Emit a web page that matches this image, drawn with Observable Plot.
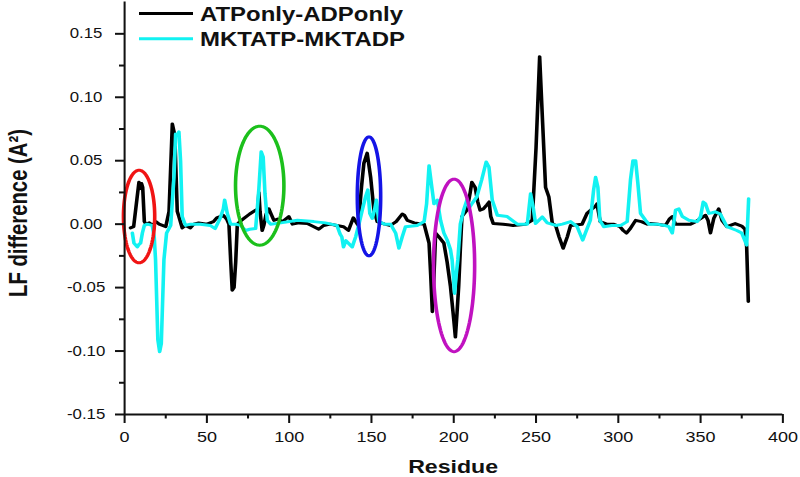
<!DOCTYPE html>
<html><head><meta charset="utf-8">
<script src="https://cdn.jsdelivr.net/npm/d3@7"></script>
<script src="https://cdn.jsdelivr.net/npm/@observablehq/plot@0.6"></script>
<style>
html,body{margin:0;padding:0;background:#fff;overflow:hidden}
#wrap{width:666.667px;height:477px;transform:scaleX(1.2);transform-origin:0 0;}
</style></head><body><div id="wrap"></div>
<script>
// ---- data ----
const seriesNames = ["ATPonly-ADPonly", "MKTATP-MKTADP"];
const seriesColors = ["#000000", "#12f2f2"];

const blackResidue = [3.6,5.5,7.5,8.7,9.5,10.3,11,12,13,15,17,19,21,23,25,27,29,30.5,32,33,35,37,40,42,45,50,54,56,60,62,63.4,64.5,65.4,66.5,67.5,68.5,70,72.5,76,79.6,81,81.6,82.3,83.6,84.6,86,87.7,89,90.7,93,96,99.8,102,106,111,115,118,121,125,129,133,136,139,142,144,145.4,147.4,149.5,151.5,153.5,158,161.6,165,168.7,170,171.8,176,182,185,186,187,188,189,191,194,196,198,200,201,202,203,204,205,208,210,211,213,214.5,216,218,220,221.5,222.5,224,230,236,243.6,247.7,250,252.2,254,255.8,257.8,259.9,261.9,264,266.5,269,271,278,281,284,286,287,289,293,297,301,303,305,307,310.5,314,317.6,319.6,324,328.7,331,332.8,334.8,340,343.9,347,350,353,354.5,356,358,361,363,366,371,375,377,378,379];
const blackLF = [-0.003,-0.002,0.020,0.033,0.028,0.032,0.029,0.002,0.000,0.001,-0.001,0.002,0.000,-0.001,-0.002,0.010,0.079,0.070,0.010,0.006,-0.003,-0.001,-0.003,0.000,0.001,0.000,0.002,0.005,0.007,0.004,0.000,-0.030,-0.052,-0.050,-0.030,0.000,0.002,0.0045,0.008,0.011,0.012,0.025,0.010,-0.005,-0.001,0.008,0.012,0.008,0.003,0.004,0.002,0.006,0.000,0.001,0.0005,-0.002,-0.004,-0.001,0.000,-0.001,-0.002,-0.005,0.005,-0.001,0.030,0.048,0.056,0.037,0.011,0.002,0.000,-0.001,0.002,0.008,0.007,0.003,0.001,0.000,-0.015,-0.040,-0.069,-0.040,-0.007,-0.010,-0.015,-0.030,-0.049,-0.075,-0.089,-0.070,-0.049,-0.020,0.006,0.011,0.025,0.033,0.029,0.018,0.011,0.012,0.015,0.0175,0.006,0.0005,0.000,-0.001,0.000,0.003,0.060,0.132,0.080,0.029,0.0215,0.0005,-0.001,-0.010,-0.019,-0.010,-0.001,0.000,0.0085,0.012,0.014,0.016,0.002,0.000,0.000,-0.002,-0.005,-0.007,-0.004,0.003,0.002,0.000,0.0005,0.000,-0.001,0.004,0.006,0.000,0.000,0.000,0.002,0.0045,0.007,0.003,-0.007,0.0045,0.012,0.003,-0.002,0.0005,-0.0015,-0.004,-0.018,-0.061];

const cyanResidue = [4.7,5.7,7.7,8.7,9.7,10.8,12,13.8,16.8,18,18.8,20.2,21.3,22.3,23.9,25.5,28,30,31,32,33,34,35,37,40,46,52,55,58,60,60.8,62.4,64.4,67.4,70.5,73.5,76,79.6,80.5,81.6,83,84.2,85.3,86.7,88.7,95,105,115,122,129,131,132,133,134.5,136,138.3,140.4,142.4,144.4,146.4,147.8,149,150.5,152,153,154.5,158,161.6,164.7,166.7,168.7,170.7,177.8,182,183.5,185,186.4,188,190,192,194,196,198,199,200,200.5,201.5,202.5,204,206,208,209.5,211,214,217,219.7,221.4,223.4,226.5,232.5,238.6,244.7,246.7,248.3,249.7,253.8,256.8,262,266,271,275,278.4,280,283,285,286.2,287.6,288.8,291.2,296,301.4,305.4,307.4,308.9,310.5,311.9,313.5,316.6,318.6,323.6,328,330.7,332.8,334.8,336.8,338.9,342.9,348,350,351.6,353,355,357,359,362,364,366,372,375,378,379.2];
const cyanLF = [-0.007,-0.015,-0.018,-0.016,-0.015,-0.007,-0.001,0.000,-0.001,-0.010,-0.028,-0.091,-0.1006,-0.094,-0.028,-0.007,-0.001,0.037,0.071,0.070,0.0727,0.050,0.006,-0.001,0.000,0.000,-0.001,-0.0035,0.0045,0.012,0.019,0.0085,0.000,0.000,-0.001,-0.005,-0.004,-0.0035,0.010,0.028,0.057,0.053,0.024,0.003,0.000,0.001,0.003,0.002,0.001,-0.001,-0.008,-0.010,-0.018,-0.013,-0.015,-0.018,-0.010,0.000,0.011,0.0215,0.027,0.0085,0.0045,0.012,0.019,0.002,0.000,0.000,-0.007,-0.019,-0.010,-0.002,-0.001,0.002,0.016,0.046,0.032,0.016,0.019,0.003,-0.007,-0.0125,-0.020,-0.028,-0.045,-0.0546,-0.040,-0.028,0.000,0.011,0.019,0.013,0.016,0.0215,0.035,0.049,0.045,0.019,0.007,0.006,0.000,0.000,0.024,0.013,0.0005,0.0057,0.001,-0.001,0.000,0.002,-0.002,-0.0126,-0.007,0.003,0.027,0.037,0.029,0.003,-0.002,-0.001,-0.001,0.002,0.035,0.050,0.050,0.032,0.0085,0.003,0.000,0.000,-0.001,-0.002,-0.007,0.011,0.012,0.006,0.003,0.002,0.006,0.0175,0.016,0.0085,0.009,0.0097,0.008,0.003,-0.002,-0.005,-0.007,-0.0165,0.020];

// highlighted regions (ellipse centre / radii in data units)
const ellipseColors = ["#f01414", "#1cc01c", "#1414e6", "#c012c0"];
const ellipseCx = [8.8, 82.1, 148.5, 200.2];
const ellipseCy = [0.006, 0.0303, 0.0219, -0.0325];
const ellipseRx = [9.5, 14.7, 7.1, 12.5];
const ellipseRy = [0.0365, 0.0469, 0.0469, 0.068];

// axes
const xMajor = [0, 50, 100, 150, 200, 250, 300, 350, 400];
const xLabels = ["0", "50", "100", "150", "200", "250", "300", "350", "400"];
const xMinor = [25, 75, 125, 175, 225, 275, 325, 375];
const yMajor = [-0.15, -0.10, -0.05, 0, 0.05, 0.10, 0.15];
const yLabels = ["-0.15", "-0.10", "-0.05", "0.00", "0.05", "0.10", "0.15"];
const yMinor = [-0.125, -0.075, -0.025, 0.025, 0.075, 0.125];
const xTitle = "Residue";
const yTitle = "LF difference (A\u00B2)";

// ---- build tables ----
const blackData = blackResidue.map((r, i) => ({residue: r, lf: blackLF[i]}));
const cyanData = cyanResidue.map((r, i) => ({residue: r, lf: cyanLF[i]}));
const ellipsePts = [];
ellipseCx.forEach((cx, k) => {
  for (let a = 0; a < 96; a++) {
    const t = (a / 96) * 2 * Math.PI;
    ellipsePts.push({k, residue: cx + ellipseRx[k] * Math.cos(t), lf: ellipseCy[k] + ellipseRy[k] * Math.sin(t)});
  }
});

// ---- layout (the reference is horizontally stretched; draw narrow then scale X) ----
const S = 1.2;
const W = 800 / S;
const font = "'Liberation Sans', Arial, sans-serif";

function decorations(index, scales, values, dims) {
  const g = d3.create("svg:g").attr("fill", "#111").attr("font-weight", "bold");
  const x0 = dims.marginLeft + 15 / S, x1 = dims.marginLeft + 69 / S;
  const legendY = [13.5, 38.7];
  const legendLen = [203 / S, 205 / S];
  seriesNames.forEach((name, i) => {
    g.append("line").attr("x1", x0).attr("x2", x1).attr("y1", legendY[i]).attr("y2", legendY[i])
      .attr("stroke", seriesColors[i]).attr("stroke-width", 3);
    g.append("text").attr("x", 200 / S).attr("y", legendY[i]).attr("dy", "0.36em")
      .attr("text-anchor", "start")
      .attr("font-size", 20).attr("textLength", legendLen[i]).attr("lengthAdjust", "spacingAndGlyphs")
      .text(name);
  });
  g.append("text")
    .attr("transform", `translate(${18 / S},213) rotate(-90)`)
    .attr("text-anchor", "middle").attr("dy", "0.36em")
    .attr("font-size", 21).attr("textLength", 168).attr("lengthAdjust", "spacingAndGlyphs")
    .text(yTitle);
  g.append("text")
    .attr("x", (dims.marginLeft + dims.width - dims.marginRight) / 2).attr("y", 466).attr("dy", "0.36em")
    .attr("text-anchor", "middle").attr("font-size", 19)
    .attr("textLength", 90 / S).attr("lengthAdjust", "spacingAndGlyphs")
    .text(xTitle);
  return g.node();
}

const chart = Plot.plot({
  width: W,
  height: 477,
  marginLeft: 124 / S,
  marginRight: (800 - 782.3) / S,
  marginTop: 1.6,
  marginBottom: 63,
  style: {fontFamily: font, background: "#fff", color: "#111"},
  x: {domain: [0, 400], label: null},
  y: {domain: [-0.15, 0.175], label: null},
  marks: [
    Plot.line(blackData, {x: "residue", y: "lf", stroke: seriesColors[0], strokeWidth: 3, strokeLinejoin: "round"}),
    Plot.line(cyanData, {x: "residue", y: "lf", stroke: seriesColors[1], strokeWidth: 3, strokeLinejoin: "round"}),
    Plot.line(ellipsePts, {x: "residue", y: "lf", z: "k", stroke: d => ellipseColors[d.k], strokeWidth: 3, curve: "linear-closed"}),
    Plot.ruleX([0], {stroke: "#111", strokeWidth: 1.7}),
    Plot.ruleY([-0.15], {stroke: "#111", strokeWidth: 2}),
    Plot.axisY({ticks: yMajor, tickSize: 9 / S, tickFormat: () => "", label: null, strokeWidth: 2, stroke: "#111"}),
    Plot.axisY({ticks: yMinor, tickSize: 5 / S, tickFormat: () => "", label: null, strokeWidth: 2, stroke: "#111"}),
    Plot.axisX({ticks: xMajor, tickSize: 9, tickFormat: () => "", label: null, strokeWidth: 1.7, stroke: "#111"}),
    Plot.axisX({ticks: xMinor, tickSize: 4.5, tickFormat: () => "", label: null, strokeWidth: 1.7, stroke: "#111"}),
    Plot.text(yMajor, {y: d => d, text: (d, i) => yLabels[i], frameAnchor: "left", dx: (85.5 - 124) / S, textAnchor: "middle", lineAnchor: "middle", fontSize: 14, fill: "#111"}),
    Plot.text(xMajor, {x: d => d, text: (d, i) => xLabels[i], frameAnchor: "bottom", dy: 22.7, textAnchor: "middle", lineAnchor: "middle", fontSize: 15, fill: "#111"}),
    decorations
  ]
});
document.getElementById("wrap").appendChild(chart);
</script>
</body></html>
